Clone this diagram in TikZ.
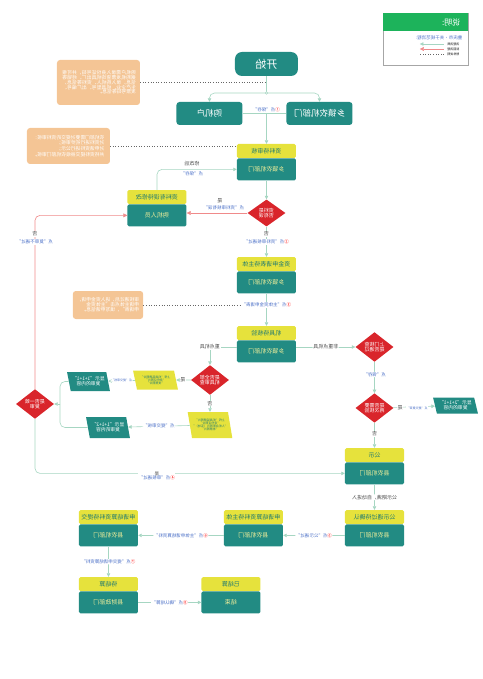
\documentclass[tikz,border=0pt]{standalone}
\usepackage{fontspec}
\setmainfont{Noto Sans CJK SC}
\XeTeXlinebreaklocale "zh"
\XeTeXlinebreakskip = 0pt plus 1pt
\usepackage{xcolor}
\usetikzlibrary{
    arrows.meta,
    positioning,
    calc,
    shapes.geometric
}

\definecolor{tealbox}{HTML}{228B83}
\definecolor{headyellow}{HTML}{E6E23C}
\definecolor{headtext}{HTML}{1F7A72}
\definecolor{bodytext}{HTML}{F0EE9A}
\definecolor{decred}{HTML}{D9252B}
\definecolor{noteorange}{HTML}{F4C595}
\definecolor{linegreen}{HTML}{A6D6C2}
\definecolor{rejectred}{HTML}{F08A8A}
\definecolor{labelblue}{HTML}{4A6FC7}
\definecolor{legendgreen}{HTML}{1DB35B}
\newcommand{\fs}[1]{\fontsize{#1}{#1}\selectfont}

\begin{document}
\begin{tikzpicture}[
    x=1pt, y=1pt, xscale=-1,
    every node/.append style={transform shape},
    term/.style={
        rectangle,
        rounded corners=7pt,
        fill=tealbox,
        text=white,
        minimum width=63pt,
        minimum height=24pt,
        font=\fs{11}
    },
    role/.style={
        rectangle,
        rounded corners=3pt,
        fill=tealbox,
        text=white,
        minimum width=66pt,
        minimum height=23pt,
        font=\fs{8.5}
    },
    headbox/.style={
        rectangle,
        rounded corners=1.5pt,
        fill=headyellow,
        text=headtext,
        minimum width=59pt,
        minimum height=14pt,
        inner sep=0pt,
        font=\fs{6}
    },
    bodybox/.style={
        rectangle,
        rounded corners=1.5pt,
        fill=tealbox,
        text=bodytext,
        minimum width=59pt,
        minimum height=22pt,
        inner sep=0pt,
        font=\fs{6}
    },
    decide/.style={
        diamond,
        fill=decred,
        text=white,
        minimum width=38pt,
        minimum height=27pt,
        inner sep=0pt,
        align=center,
        font=\fs{5}
    },
    note/.style={
        rectangle,
        rounded corners=3pt,
        fill=noteorange,
        text=white,
        align=left,
        inner sep=4pt,
        font=\fs{4.8}
    },
    shot/.style={
        trapezium,
        trapezium left angle=70,
        trapezium right angle=110,
        trapezium stretches=true,
        fill=tealbox,
        text=white,
        align=center,
        inner sep=0pt,
        font=\fs{4.8}
    },
    photo/.style={
        shot,
        fill=headyellow,
        text=headtext,
        font=\fs{3}
    },
    line/.style={draw=linegreen, line width=0.6pt, rounded corners=5pt},
    flow/.style={line, -{Triangle[length=3.5pt, width=3.5pt]}},
    reject/.style={draw=rejectred, line width=0.6pt, rounded corners=5pt,
        -{Triangle[length=4pt, width=4pt]}},
    dotline/.style={draw=gray!80!black, line width=0.6pt, dotted},
    lbl/.style={fill=white, text=labelblue, inner sep=0.5pt, font=\fs{4.5}},
    ans/.style={fill=white, text=black!70, inner sep=0.5pt, font=\fs{5}}
]
\useasboundingbox (0,0) rectangle (482,-679);

% legend
\node[draw=gray!70, minimum width=85pt, minimum height=52pt, anchor=north west,
    inner sep=0pt] (legend) at (14,-13) {};
\node[fill=legendgreen, minimum width=85pt, minimum height=18pt, anchor=north,
    inner sep=0pt] (legendh) at (legend.north) {};
\node[text=white, font=\fs{8}, anchor=west] at ([xshift=4pt]legendh.west) {说明:};
\node[text=labelblue, font=\fs{4.5}, anchor=north west] at (16,-32) {重庆市·关于规范流程:};
\node[font=\fs{3}, anchor=west] (lg1) at (19,-44) {流程流转};
\node[font=\fs{3}, anchor=west] (lg2) at (19,-49) {驳回流程};
\node[font=\fs{3}, anchor=west] (lg3) at (19,-54) {附件说明};
\draw[flow, line width=0.4pt] (lg1.east) -- ++(24,0);
\draw[reject, line width=0.4pt] (lg2.east) -- ++(24,0);
\draw[dotline, line width=0.4pt] (lg3.east) -- ++(24,0);

% start and roles
\node[term] (start) at (215.5,-64) {开始};
\node[role] (farmer) at (272.5,-113.5) {购机户};
\node[role] (town) at (162.5,-113.5) {乡镇农机部门};
\coordinate (split) at (215.5,-93);
\coordinate (merge) at (215.5,-113.5);

% notes
\node[note, minimum width=83pt, minimum height=45pt, text width=75pt] (n1) at (383.5,-82.5)
    {购机户需录入身份证号码，并可根据购机发票查询机具出厂、经销等信息，录入购机人、资料等信息，生产企业、机具型号、出厂编号、发票号码等信息。};
\node[note, minimum width=83pt, minimum height=36pt] (n2) at (413.5,-146)
    {农机部门需要对提交的资料审核：\\对资料进行初步审核；\\对申请资料进行公示；\\并将资料提交县级农机部门审核。};
\node[note, minimum width=60pt, minimum height=28pt] (n3) at (374,-305)
    {审核通过后，进入资金申请，\\申请主体点击“主体资金\\申请表”，填写申请信息。};

% two-part boxes
\node[headbox] (checkh) at (215.5,-151) {资料待审核};
\node[bodybox, below=0pt of checkh] (check) {乡镇农机部门};
\node[headbox] (fixh) at (325,-197) {资料有误待修改};
\node[bodybox, below=0pt of fixh] (fix) {购机人员};
\node[headbox] (fundh) at (215.5,-264) {资金申请表待主体};
\node[bodybox, below=0pt of fundh] (fund) {乡镇农机部门};
\node[headbox] (verifyh) at (215.5,-333) {机具待核验};
\node[bodybox, below=0pt of verifyh] (verify) {乡镇农机部门};
\node[headbox] (pubh) at (107.5,-455) {公示};
\node[bodybox, below=0pt of pubh] (pub) {县农机部门};
\node[headbox] (pubokh) at (107.5,-517) {公示通过待确认};
\node[bodybox, below=0pt of pubokh] (pubok) {县农机部门};
\node[headbox] (settle1h) at (228.5,-517) {申请结算资料待主体};
\node[bodybox, below=0pt of settle1h] (settle1) {县农机部门};
\node[headbox] (settle2h) at (373.5,-517) {申请结算资料待提交};
\node[bodybox, below=0pt of settle2h] (settle2) {县农机部门};
\node[headbox] (waith) at (373.5,-584) {待结算};
\node[bodybox, below=0pt of waith] (wait) {县财政部门};
\node[headbox] (doneh) at (251,-584) {已结算};
\node[bodybox, below=0pt of doneh] (done) {结束};

% decisions
\node[decide] (d1) at (215.5,-213) {资料是\\否有误};
\node[decide] (d2) at (107.5,-347) {上门核查\\是否通过};
\node[decide] (d3) at (107.5,-408) {是否需要\\再次核验};
\node[decide] (d4) at (272,-380) {是否全部\\机具审查};
\node[decide] (d5) at (447,-404) {是否一致\\复审};

% photos and results
\node[shot, minimum width=45pt, minimum height=16pt] (p1) at (26.5,-405.5) {显示“2+1+1”\\复审的内容};
\node[photo, minimum width=45pt, minimum height=19pt] (y1) at (326.5,-380)
    {上传“机具铭牌照片”\\“身份证照片”\\“发票照片”};
\node[shot, minimum width=43pt, minimum height=19pt] (p2) at (393.5,-381.5) {显示“1+1+1”\\复审的内容};
\node[photo, minimum width=40pt, minimum height=26pt] (y2) at (272,-425)
    {上传“机具铭牌照片”\\“身份证照片”\\“人机合影照片（实地）”\\“发票照片”};
\node[shot, minimum width=44pt, minimum height=21pt] (p3) at (374,-427.5) {显示“1+1+2”\\复审的内容};
\coordinate (join) at (422,-404);

% connectors
\draw[line] (start) -- (split);
\draw[flow] (split) -| (farmer);
\draw[flow] (split) -| (town);
\filldraw[draw=linegreen, fill=white, line width=0.5pt] (split) circle (1.3pt);
\draw[dotline] (n1.west) -- (n1.west -| start);
\draw[line] (farmer) -- (merge);
\draw[line] (town) -- (merge);
\draw[flow] (merge) -- (checkh);
\node[lbl, fill=none, above=0.5pt of merge] {\textcolor{red}{①}点“保存”};

\draw[dotline] (n2.west) -- (n2.west -| check.east);
\draw[flow] (fixh.north) |- (check.east);
\node[ans, fill=none] at (290,-164) {修改后};
\node[lbl, fill=none] at (290,-173.5) {点“保存”};

\draw[flow] (check) -- (d1);
\draw[reject] (d1.east) -- (d1.east -| fix.west);
\node[ans, fill=none] at (262,-201) {是};
\node[lbl, fill=none] at (258,-208) {点“资料审核有误”};
\draw[flow] (d1) -- (fundh);
\node[ans] at (215.5,-234) {否};
\node[lbl] at (215.5,-242) {\textcolor{red}{②}点“资料审核通过”};

\draw[flow] (fund) -- (verifyh);
\node[lbl] (lbl3) at (215.5,-305) {\textcolor{red}{③}点“主体资金申请表”};
\draw[dotline] (n3.west) -- (lbl3.east);

\draw[flow] (verify.west |- d2) -- (d2) node[ans, midway] {非重点机具};
\draw[flow] (d2) -- (d3) node[lbl, pos=0.4] {点“保存”};
\draw[flow] (d3) -- (p1);
\node[ans] at (82,-408) {是};
\node[lbl, font=\fs{3}] at (65,-408) {点“提交复审”};
\draw[flow] (d3) -- (pubh) node[ans, pos=0.45] {否};

\node[ans] (keyl) at (272,-347) {重点机具};
\draw[line] (verify.east |- keyl) -- (keyl);
\draw[flow] (keyl) -- (d4);
\draw[flow] (d4) -- (y1);
\node[ans] at (299,-380) {是};
\draw[flow] (y1) -- (p2) node[lbl, midway, font=\fs{3}] {点“提交审核”};
\draw[flow] (d4) -- (y2) node[ans, midway] {否};
\draw[flow] (y2) -- (p3) node[lbl, midway] {点“提交审核”};
\draw[line] (p2) -| (join);
\draw[line] (p3) -| (join);
\draw[flow] (join) -- (d5);

\draw[reject] (d5) |- (fix.east);
\node[ans] at (447,-234) {否};
\node[lbl] at (447,-242) {点“复审不通过”};
\draw[flow] (d5) |- (pub.east);
\node[lbl, align=center] at (325,-476) {\textcolor{black!70}{是}\\\textcolor{red}{④}点“审核通过”};

\draw[flow] (pub) -- (pubokh) node[ans, midway] {公示期满，自动进入};
\draw[flow] (pubok) -- (settle1) node[lbl, midway] {\textcolor{red}{⑤}点“公示通过”};
\draw[flow] (settle1) -- (settle2) node[lbl, midway] {\textcolor{red}{⑥}点“主体申请结算资料”};
\draw[flow] (settle2) -- (waith) node[lbl, midway] {\textcolor{red}{⑦}点“提交申请结算资料”};
\draw[flow] (wait) -- (done) node[lbl, midway] {\textcolor{red}{⑧}点“确认结算”};

\end{tikzpicture}
\end{document}
